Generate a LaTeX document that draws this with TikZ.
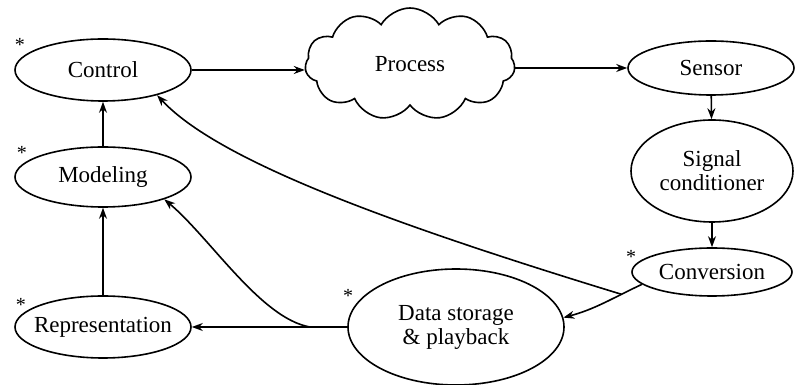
\documentclass[tikz,border=0pt]{standalone}
\usepackage{fontspec}
\setmainfont{Liberation Serif}
\usepackage{tikz}
\usetikzlibrary{arrows.meta, shapes.geometric, shapes.symbols}

\begin{document}
\begin{tikzpicture}[>= {Stealth[length=5.5pt, width=4pt]}, x=0.5pt, y=0.5pt, thick,
                    font=\fontsize{11.5}{12}\selectfont]
\tikzstyle{block}=[ellipse, draw=black, thick, align=center,
                    inner xsep=-4pt, inner ysep=0pt]
\tikzstyle{asterisk}=[inner sep=0pt, font=\fontsize{10}{10}\selectfont]
  \useasboundingbox (0,0) rectangle (799,385);
  \node[block, minimum width=88pt, minimum height=31pt] (ctl) at (103,315) {Control};
  \node[block, minimum width=88pt, minimum height=30pt] (mod) at (103,208) {Modeling};
  \node[block, minimum width=88pt, minimum height=31pt] (rep) at (103,58) {Representation};
  \node[block, minimum width=108pt, minimum height=58pt] (data) at (456,58) {Data storage\\ \& playback};
  \node[cloud, draw=black, thick, cloud puffs=11, cloud puff arc=120, aspect=1.8,
        minimum width=105pt, minimum height=56pt] (proc) at (410,321) {Process};
  \node[block, minimum width=83pt, minimum height=27pt] (sen) at (711,317) {Sensor};
  \node[block, minimum width=81pt, minimum height=51pt] (sig) at (712,214) {Signal\\conditioner};
  \node[block, minimum width=80pt, minimum height=24pt] (conv) at (712,113) {Conversion};
  % starred blocks
  \node[asterisk] (sctl) at (20,340) {*};
  \node[asterisk] (smod) at (22,232) {*};
  \node[asterisk] (srep) at (21,80) {*};
  \node[asterisk] (sdata) at (348,89) {*};
  \node[asterisk] (sconv) at (631,128) {*};
  \draw[->] (ctl.east) -- (ctl.east -| proc.west);
  \draw[->] (proc.east |- sen.west) -- (sen.west);
  \path[->] (sen) edge (sig);
  \path[->] (sig) edge (conv);
  \draw[->] (conv.190) to[out=205, in=15] coordinate[pos=0.25] (j) (data.5);
  \draw[->] (j) to[out=163, in=-47, out distance=125pt, in distance=44pt] (ctl.-25);
  \draw[->] (data.west) -- coordinate[pos=0.24] (b) (rep.east);
  \draw[->] (b) to[out=170, in=-40, out distance=25pt, in distance=30pt] (mod.-20);
  \path[->] (rep) edge (mod);
  \path[->] (mod) edge (ctl);
\end{tikzpicture}
\end{document}
